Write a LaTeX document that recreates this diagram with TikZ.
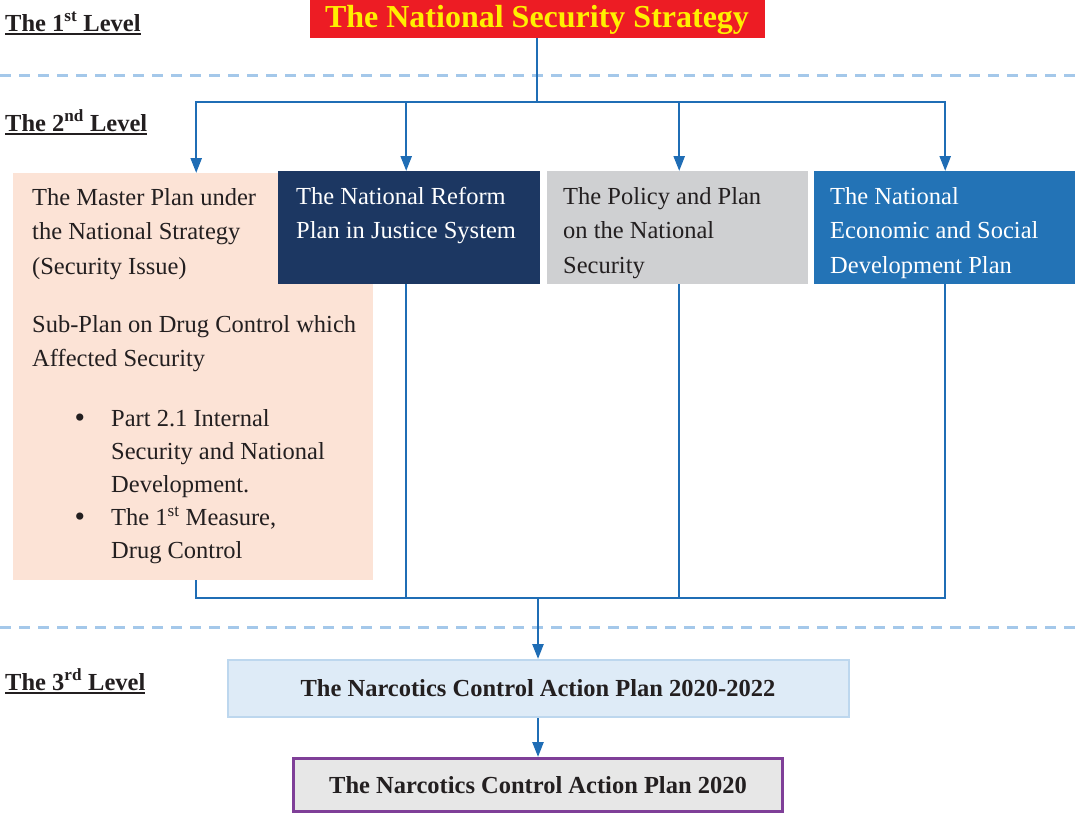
\documentclass[tikz,border=0pt]{standalone}
\usepackage{fontspec}
\setmainfont{Liberation Serif}
\usetikzlibrary{arrows.meta}
\definecolor{rouge}{HTML}{ED1C24}
\definecolor{jaune}{HTML}{FFF000}
\definecolor{peche}{HTML}{FCE3D6}
\definecolor{marine}{HTML}{1C3762}
\definecolor{gris}{HTML}{CFD0D2}
\definecolor{bleu}{HTML}{2373B6}
\definecolor{bleutrait}{HTML}{1F6DB5}
\definecolor{bleuclair}{HTML}{A4C8EA}
\definecolor{ciel}{HTML}{DEEBF7}
\definecolor{cielbord}{HTML}{BDD7EE}
\definecolor{violet}{HTML}{7F3F98}
\definecolor{grisclair}{HTML}{E7E7E7}
\definecolor{texte}{HTML}{231F20}
\begin{document}
\begin{tikzpicture}[x=1pt,y=-1pt]
	% Styles (MODIFIABLES)
	\tikzstyle{fleche}=[-{Triangle[length=15pt,width=11pt]},line width=2.5pt,draw=bleutrait]
	\tikzstyle{liaison}=[line width=2.5pt,draw=bleutrait]
	\tikzstyle{tirets}=[line width=3pt,draw=bleuclair,dash pattern=on 11pt off 8pt]
	\tikzstyle{niveau}=[anchor=base west,inner sep=0pt,text=texte,font=\bfseries\fontsize{24.5}{30}\selectfont]
	\tikzstyle{boite}=[anchor=north west,inner sep=0pt,font=\fontsize{24.5}{34.5}\selectfont]
	\tikzstyle{plan}=[inner sep=0pt,text=texte,font=\bfseries\fontsize{24.5}{30}\selectfont]
	% Macros
	\def\Contenu#1#2#3#4{\parbox[c][#2][t]{#1}{\raggedright\leftskip=#3\vspace*{9pt}\strut #4\par}}
	\def\Souligne#1{\setbox0\hbox{#1}\rlap{\rule[-3.5pt]{\wd0}{2pt}}\box0}
	\def\Puce{\leavevmode\llap{\raisebox{-1pt}{\fontsize{30}{30}\selectfont\textbullet}\hspace{26pt}}}
	\useasboundingbox (0,0) rectangle (1075,815);
	% Niveaux
	\node[niveau] (NiveauA) at (5,31) {\Souligne{The 1\textsuperscript{st} Level}};
	\node[niveau] (NiveauB) at (5,131) {\Souligne{The 2\textsuperscript{nd} Level}};
	\node[niveau] (NiveauC) at (5,690) {\Souligne{The 3\textsuperscript{rd} Level}};
	\draw[tirets] (0,75) -- (1075,75);
	\draw[tirets] (0,627) -- (1075,627);
	% Noeuds
	\node[fill=rouge,text=jaune,inner sep=0pt,minimum width=455,minimum height=38,text height=22pt,text depth=6pt,font=\bfseries\fontsize{32}{36}\selectfont] (Strategie) at (537,19) {The National Security Strategy};
	\node[boite,fill=peche,text=texte] (Maitre) at (13,173) {\parbox[c][407pt][t]{360pt}{\raggedright\leftskip=19pt
		\vspace*{8pt}\strut The Master Plan under\\the National Strategy\\(Security Issue)\par
		\vspace{23.5pt}Sub-Plan on Drug Control which\\Affected Security\par
		\vspace{27pt}\leftskip=98pt\baselineskip=33pt
		\Puce Part 2.1 Internal\\Security and National\\Development.\\
		\Puce The 1\textsuperscript{st} Measure,\\Drug Control\par}};
	\node[boite,fill=marine,text=white] (Reforme) at (278,171) {\Contenu{262pt}{113pt}{18pt}{The National Reform\\Plan in Justice System}};
	\node[boite,fill=gris,text=texte] (Politique) at (547,171) {\Contenu{261pt}{113pt}{16pt}{The Policy and Plan\\on the National\\Security}};
	\node[boite,fill=bleu,text=white] (Economie) at (814,171) {\Contenu{261pt}{113pt}{16pt}{The National\\Economic and Social\\Development Plan}};
	\node[plan,fill=ciel,draw=cielbord,line width=2pt,minimum width=621,minimum height=57] (Action) at (538,688.5) {The Narcotics Control Action Plan 2020-2022};
	\node[plan,fill=grisclair,draw=violet,line width=3pt,minimum width=489,minimum height=53] (Plan) at (538,785) {The Narcotics Control Action Plan 2020};
	% Arcs
	\coordinate (Haut) at (537,102);
	\coordinate (Bas) at (538,598);
	\draw[liaison] (Strategie.south) -- (Haut);
	\foreach \b/\d in {Maitre/3,Reforme/-3,Politique/1.5,Economie/0.5}
		\draw[fleche] (Haut) -| ([xshift=\d pt]\b.north);
	\foreach \b/\d in {Maitre/3,Reforme/-3,Politique/1.5,Economie/0.5}
		\draw[liaison] ([xshift=\d pt]\b.south) |- (Bas);
	\draw[fleche] (Bas) -- (Action.north);
	\draw[fleche] (Action.south) -- (Plan.north);
\end{tikzpicture}
\end{document}
